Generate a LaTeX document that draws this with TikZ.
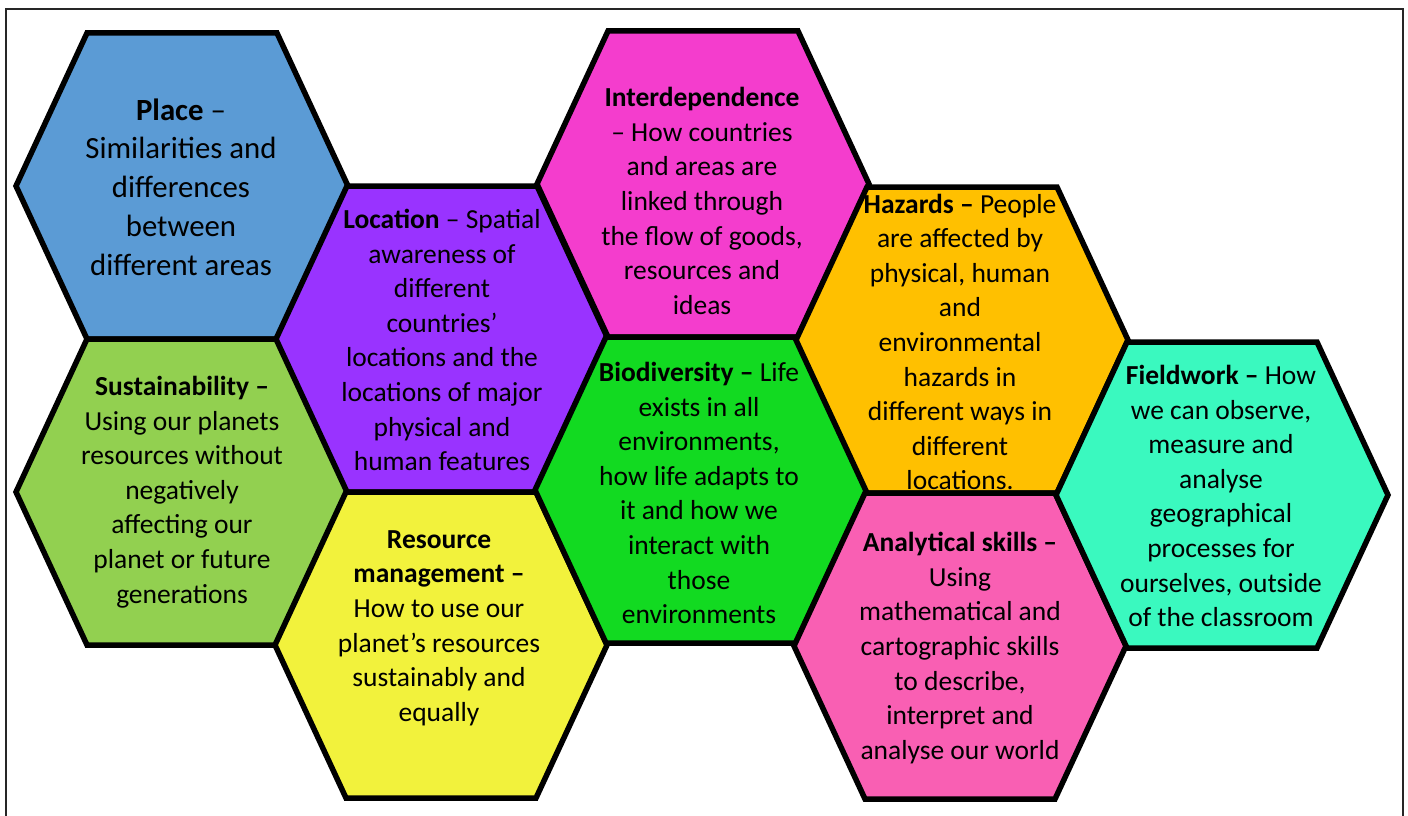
\documentclass[tikz,border=0pt]{standalone}
\usepackage{fontspec}
\setmainfont{Carlito}
\definecolor{placeC}{HTML}{5B9BD5}
\definecolor{locC}{HTML}{9933FF}
\definecolor{interC}{HTML}{F43DCD}
\definecolor{hazC}{HTML}{FFC000}
\definecolor{susC}{HTML}{92D050}
\definecolor{resC}{HTML}{F2F23C}
\definecolor{bioC}{HTML}{12DA21}
\definecolor{anaC}{HTML}{F95FB3}
\definecolor{fieldC}{HTML}{3AF9BF}
\newcommand\hexcell[4]{%
  \draw[hexline, fill=#4] (#2-166,#3) -- (#2-95,#3-153) -- (#2+95,#3-153) -- (#2+166,#3) -- (#2+95,#3+153) -- (#2-95,#3+153) -- cycle;
  \coordinate (#1) at (#2,#3);}
\begin{document}
\begin{tikzpicture}[x=1pt,y=-1pt,
  hexline/.style={line width=5.5pt, line join=miter, draw=black},
  hextext/.style={align=center, inner sep=0pt, text=black, font=\fontsize{27.5}{34.6}\selectfont},
  bigtext/.style={hextext, font=\fontsize{30.8}{38.8}\selectfont}]
\useasboundingbox (0,0) rectangle (1408,816);
\fill[white] (0,0) rectangle (1408,816);
\draw[line width=2pt, draw=black!85] (6,9) rectangle (1403,840);

\hexcell{place}{182}{186}{placeC}
\hexcell{sus}{182}{492}{susC}
\hexcell{loc}{442}{339}{locC}
\hexcell{res}{441}{645}{resC}
\hexcell{inter}{703}{184}{interC}
\hexcell{bio}{701}{490}{bioC}
\hexcell{haz}{962}{340}{hazC}
\hexcell{ana}{960}{646}{anaC}
\hexcell{field}{1222}{495}{fieldC}

\node[bigtext] (placeT) at (181,187) {\textbf{Place} –\\Similarities and\\differences\\between\\different areas};
\node[hextext] (susT) at (182,492) {\textbf{Sustainability –}\\Using our planets\\resources without\\negatively\\affecting our\\planet or future\\generations};
\node[hextext] (locT) at (442,340) {\textbf{Location} – Spatial\\awareness of\\different\\countries’\\locations and the\\locations of major\\physical and\\human features};
\node[hextext] (resT) at (439,628) {\textbf{Resource}\\\textbf{management –}\\How to use our\\planet’s resources\\sustainably and\\equally};
\node[hextext] (interT) at (702,201) {\textbf{Interdependence}\\– How countries\\and areas are\\linked through\\the flow of goods,\\resources and\\ideas};
\node[hextext] (bioT) at (699,493) {\textbf{Biodiversity –} Life\\exists in all\\environments,\\how life adapts to\\it and how we\\interact with\\those\\environments};
\node[hextext] (hazT) at (960,342) {\textbf{Hazards –} People\\are affected by\\physical, human\\and\\environmental\\hazards in\\different ways in\\different\\locations.};
\node[hextext] (anaT) at (960,648) {\textbf{Analytical skills –}\\Using\\mathematical and\\cartographic skills\\to describe,\\interpret and\\analyse our world};
\node[hextext] (fieldT) at (1221,496) {\textbf{Fieldwork –} How\\we can observe,\\measure and\\analyse\\geographical\\processes for\\ourselves, outside\\of the classroom};
\end{tikzpicture}
\end{document}
